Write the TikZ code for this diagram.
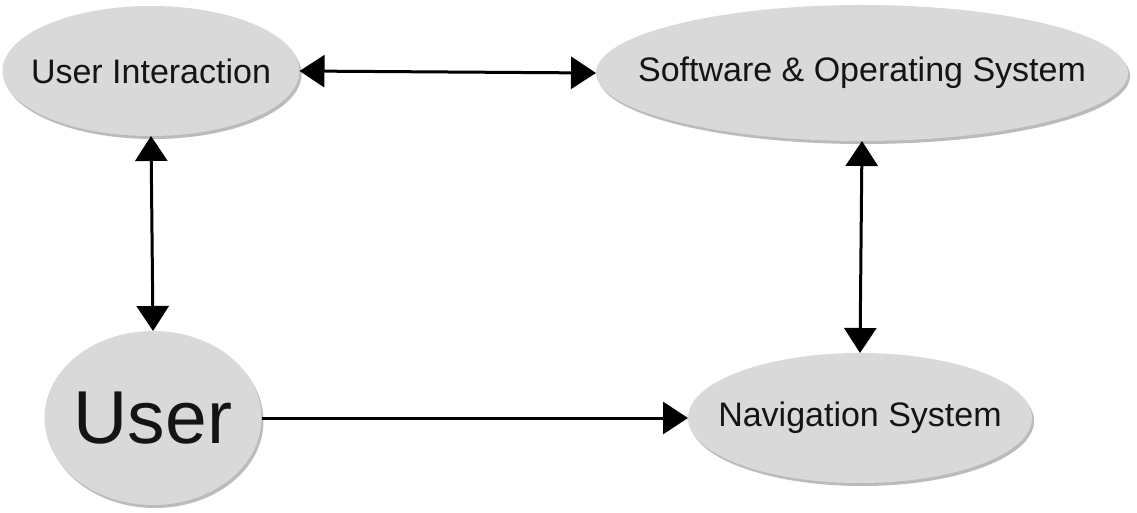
\documentclass[tikz,border=0pt]{standalone}
\usepackage{fontspec}
\setmainfont{Liberation Sans}
\usetikzlibrary{shapes.geometric,arrows.meta,shadows}
\definecolor{ellfill}{HTML}{D9D9D9}
\definecolor{txt}{HTML}{141414}
\tikzset{
  ell/.style={ellipse, fill=ellfill, draw=none, inner sep=0pt, outer sep=0pt,
    drop shadow={shadow xshift=2pt, shadow yshift=-3pt, fill=gray!75, opacity=0.7}},
  lbl/.style={text=txt, font=\fontsize{34}{40}\selectfont},
  conn/.style={line width=3pt, draw=black,
    -{Triangle[length=25pt,width=32pt]}},
  biconn/.style={line width=3pt, draw=black,
    {Triangle[length=25pt,width=32pt]}-{Triangle[length=25pt,width=32pt]}}
}
\begin{document}
\begin{tikzpicture}[x=1pt,y=-1pt]
\useasboundingbox (0,0) rectangle (1137,513);
\fill[white] (0,0) rectangle (1137,513);
\node[ell, minimum width=297pt, minimum height=130pt,
  label={[lbl]center:User Interaction}] (ui) at (151,71) {};
\node[ell, minimum width=532pt, minimum height=136pt,
  label={[lbl]center:Software \& Operating System}] (sos) at (862,73) {};
\node[ell, minimum width=344pt, minimum height=130pt,
  label={[lbl]center:Navigation System}] (nav) at (860,418) {};
\node[ell, minimum width=217pt, minimum height=174pt,
  label={[lbl, font=\fontsize{75}{80}\selectfont]center:User}] (user) at (153,418) {};
\draw[biconn] (ui.east) -- (sos.west);
\draw[biconn] (ui.south) -- (user.north);
\draw[biconn] (sos.south) -- (nav.north);
\draw[conn] (user.east) -- (nav.west);
\end{tikzpicture}
\end{document}
